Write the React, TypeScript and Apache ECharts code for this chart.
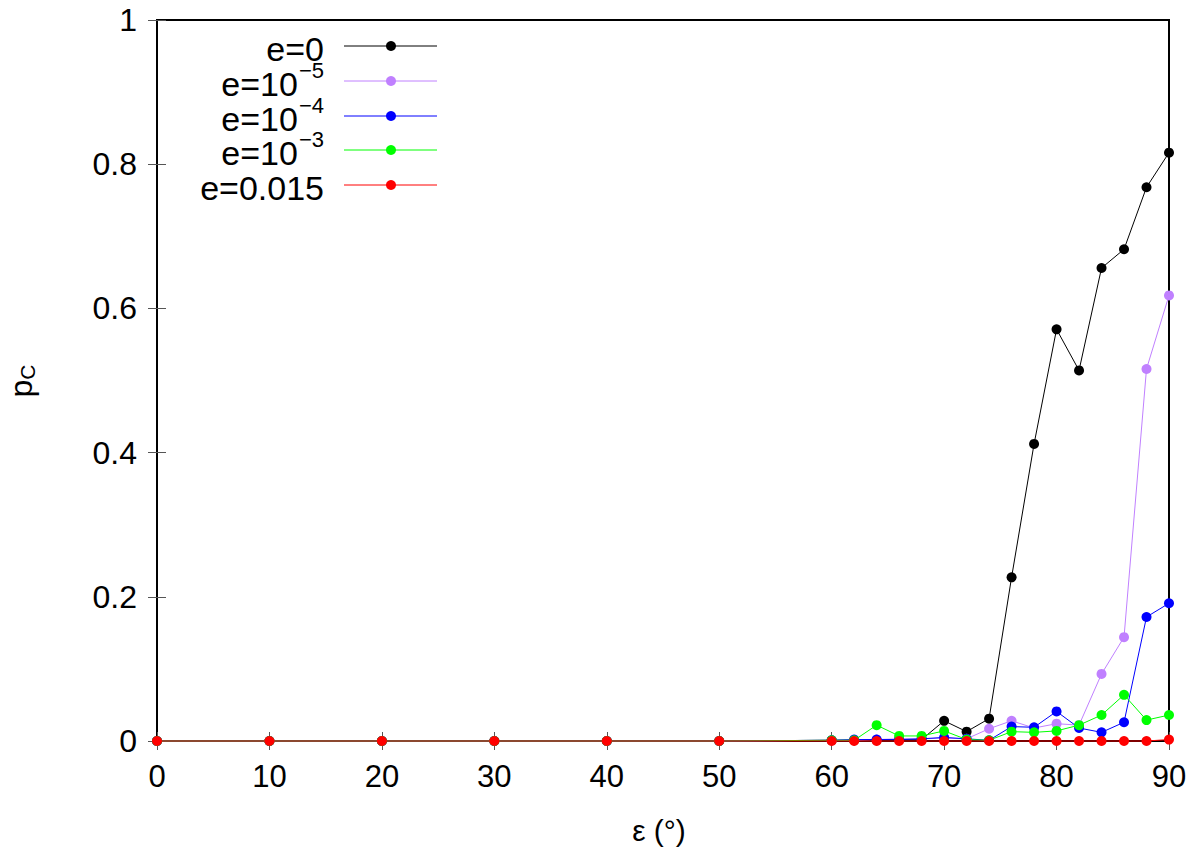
import React, { useEffect, useRef } from "react";
import * as echarts from "echarts";

const xValues = [0, 10, 20, 30, 40, 50, 60, 62, 64, 66, 68, 70, 72, 74, 76, 78, 80, 82, 84, 86, 88, 90];
const e0 = [0, 0, 0, 0, 0, 0, 0.001, 0.001, 0.001, 0.002, 0.002, 0.028, 0.013, 0.031, 0.227, 0.412, 0.571, 0.514, 0.656, 0.682, 0.768, 0.816];
const e1e5 = [0, 0, 0, 0, 0, 0, 0.001, 0.001, 0.002, 0.003, 0.003, 0.004, 0.003, 0.017, 0.028, 0.018, 0.024, 0.022, 0.093, 0.144, 0.516, 0.618];
const e1e4 = [0, 0, 0, 0, 0, 0, 0.001, 0.002, 0.002, 0.002, 0.003, 0.005, 0.003, 0.001, 0.020, 0.019, 0.041, 0.018, 0.012, 0.026, 0.172, 0.191];
const e1e3 = [0, 0, 0, 0, 0, 0, 0.001, 0.001, 0.022, 0.007, 0.007, 0.014, 0.002, 0.001, 0.013, 0.012, 0.014, 0.022, 0.036, 0.064, 0.029, 0.036];
const e015 = [0, 0, 0, 0, 0, 0, 0, 0, 0, 0, 0, 0, 0, 0, 0, 0, 0, 0, 0, 0, 0, 0.002];

const seriesNames = ["e=0", "e=10^-5", "e=10^-4", "e=10^-3", "e=0.015"];
const seriesValues = [e0, e1e5, e1e4, e1e3, e015];
const seriesColors = ["#000000", "#c080ff", "#0000ff", "#00ff00", "#ff0000"];
const legendMain = ["e=0", "e=10", "e=10", "e=10", "e=0.015"];
const legendSup = ["", "\u22125", "\u22124", "\u22123", ""];

const FONT = "'Liberation Sans', Arial, Helvetica, sans-serif";

export default function App() {
  const ref = useRef<HTMLDivElement>(null);
  useEffect(() => {
    if (!ref.current) return;
    const chart = echarts.init(ref.current, null, { renderer: "svg" });

    const L = 157, T = 20, W = 1012, H = 721;

    const series = seriesValues.map((vals, i) => ({
      name: seriesNames[i],
      type: "line",
      data: xValues.map((x, j) => [x, vals[j]]),
      symbol: "circle",
      symbolSize: 10,
      showSymbol: true,
      clip: false,
      lineStyle: { color: seriesColors[i], width: 1 },
      itemStyle: { color: seriesColors[i] },
      z: 3 + i,
    }));

    const legendGraphics: any[] = [];
    const rowY = [46, 81, 116, 150, 185];
    for (let i = 0; i < seriesNames.length; i++) {
      const y = rowY[i];
      legendGraphics.push({
        type: "line",
        shape: { x1: 344, y1: y, x2: 437, y2: y },
        style: { stroke: seriesColors[i], lineWidth: 1 },
        z: 10,
      });
      legendGraphics.push({
        type: "circle",
        shape: { cx: 391, cy: y, r: 5 },
        style: { fill: seriesColors[i] },
        z: 11,
      });
      const text = legendSup[i]
        ? `{m|${legendMain[i]}}{s|${legendSup[i]}}`
        : `{m|${legendMain[i]}}`;
      legendGraphics.push({
        type: "text",
        x: 324,
        y: y + 3,
        style: {
          text,
          align: "right",
          verticalAlign: "middle",
          rich: {
            m: { fontSize: 34, fontFamily: FONT, fill: "#000" },
            s: { fontSize: 22, fontFamily: FONT, fill: "#000", padding: [0, 0, 28, 1] },
          },
        },
        z: 12,
      });
    }

    const option: any = {
      animation: false,
      backgroundColor: "#ffffff",
      grid: {
        left: L,
        top: T,
        width: W,
        height: H,
        show: true,
        borderColor: "#000",
        borderWidth: 2,
        backgroundColor: "transparent",
      },
      xAxis: [
        {
          type: "value",
          min: 0,
          max: 90,
          interval: 10,
          position: "bottom",
          axisLine: { show: true, lineStyle: { color: "#000", width: 2 } },
          axisTick: { show: true, inside: true, length: 9, lineStyle: { color: "#555", width: 1 } },
          axisLabel: { show: true, color: "#000", fontSize: 31, fontFamily: FONT, margin: 20 },
          splitLine: { show: false },
        },
        {
          type: "value",
          min: 0,
          max: 90,
          interval: 10,
          position: "top",
          axisLine: { show: true, lineStyle: { color: "#000", width: 2 } },
          axisTick: { show: true, inside: true, length: 9, lineStyle: { color: "#555", width: 1 } },
          axisLabel: { show: false },
          splitLine: { show: false },
        },
      ],
      yAxis: [
        {
          type: "value",
          min: 0,
          max: 1,
          interval: 0.2,
          position: "left",
          axisLine: { show: true, lineStyle: { color: "#000", width: 2 } },
          axisTick: { show: true, inside: true, length: 9, lineStyle: { color: "#555", width: 1 } },
          axisLabel: {
            show: true,
            color: "#000",
            fontSize: 32,
            fontFamily: FONT,
            margin: 20,
            formatter: (v: number) => String(Math.round(v * 10) / 10),
          },
          splitLine: { show: false },
        },
        {
          type: "value",
          min: 0,
          max: 1,
          interval: 0.2,
          position: "right",
          axisLine: { show: true, lineStyle: { color: "#000", width: 2 } },
          axisTick: { show: true, inside: true, length: 9, lineStyle: { color: "#555", width: 1 } },
          axisLabel: { show: false },
          splitLine: { show: false },
        },
      ],
      series,
      graphic: [
        ...legendGraphics,
        {
          type: "text",
          x: 21,
          y: 381,
          rotation: Math.PI / 2,
          style: {
            text: "{m|p}{s|C}",
            align: "center",
            verticalAlign: "middle",
            rich: {
              m: { fontSize: 32, fontFamily: FONT, fill: "#000" },
              s: { fontSize: 21, fontFamily: FONT, fill: "#000", padding: [12, 0, 0, 0] },
            },
          },
        },
        {
          type: "text",
          x: 659,
          y: 830,
          style: {
            text: "\u03b5 (\u00b0)",
            align: "center",
            verticalAlign: "middle",
            fontSize: 30,
            fontFamily: FONT,
            fill: "#000",
          },
        },
      ],
    };
    chart.setOption(option);
    return () => chart.dispose();
  }, []);

  return (
    <div
      ref={ref}
      style={{ position: "fixed", left: 0, top: 0, width: 1200, height: 856, background: "#fff" }}
    />
  );
}
